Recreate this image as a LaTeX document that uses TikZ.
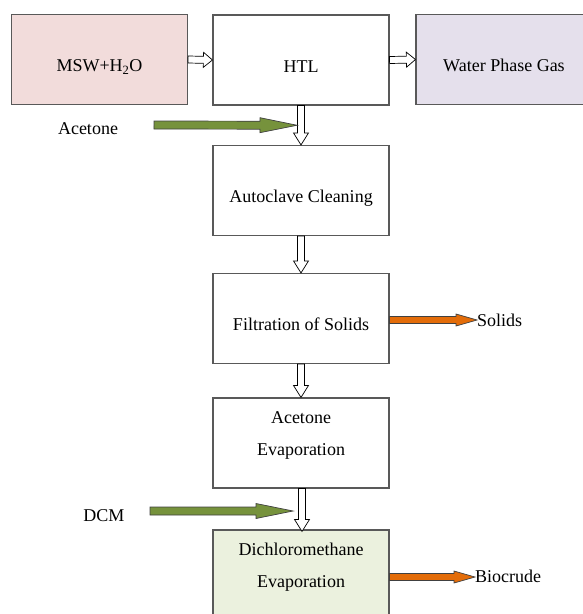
\documentclass[tikz,border=0pt]{standalone}
\usepackage{fontspec}
\setmainfont{Liberation Serif}
\usetikzlibrary{calc}

\definecolor{mswpink}{HTML}{F2DCDB}
\definecolor{gaslilac}{HTML}{E5E0EC}
\definecolor{evapgreen}{HTML}{EBF1DE}
\definecolor{solvgreen}{HTML}{76923C}
\definecolor{prodorange}{HTML}{E36C09}

% flecha de bloque: [estilo]{inicio}{punta}{medio ancho cuerpo}{medio ancho punta}{largo punta}
\newcommand{\blockarrow}[6][]{%
  \coordinate (ba-s) at (#2);
  \coordinate (ba-e) at (#3);
  \coordinate (ba-h) at ($(ba-e)!#6!(ba-s)$);
  \filldraw[#1] ($(ba-s)!#4!90:(ba-e)$) -- ($(ba-h)!#4!90:(ba-e)$) -- ($(ba-h)!#5!90:(ba-e)$)
    -- (ba-e) -- ($(ba-h)!#5!-90:(ba-e)$) -- ($(ba-h)!#4!-90:(ba-e)$) -- ($(ba-s)!#4!-90:(ba-e)$) -- cycle;
}

\begin{document}
\begin{tikzpicture}[x=1pt, y=-1pt,
    box/.style={draw=black!65, line width=1.1pt, minimum width=176pt, minimum height=90pt,
      inner sep=0pt, align=center, text height=24pt, text depth=0pt,
      font=\fontsize{18}{32}\selectfont},
    lbl/.style={font=\fontsize{18}{22}\selectfont, inner sep=0pt},
    hollow/.style={fill=white, draw=black, line width=0.7pt},
    solvent/.style={fill=solvgreen, draw=black!75, line width=0.7pt},
    product/.style={fill=prodorange, draw=black!75, line width=0.7pt}]
    \useasboundingbox (0,0) rectangle (583,614);

    % Cajas del proceso
    \node[box, fill=mswpink] (msw) at (99.5,59.5) {MSW+H\textsubscript{2}O};
    \node[box] (htl) at (301,60) {HTL};
    \node[box, fill=gaslilac] (gas) at (504,59.5) {Water Phase Gas};
    \node[box] (clean) at (301,190.5) {Autoclave Cleaning};
    \node[box] (filt) at (301,318.5) {Filtration of Solids};
    \node[box] (acev) at (301,443) {Acetone\\Evaporation};
    \node[box, fill=evapgreen] (dcmev) at (301,575) {Dichloromethane\\Evaporation};

    % Entradas y salidas
    \node[lbl] (acet) at (88,129) {Acetone};
    \node[lbl] (dcm) at (104,516) {DCM};
    \node[lbl, anchor=west] (solids) at (477,320) {Solids};
    \node[lbl, anchor=west] (crude) at (475,576) {Biocrude};
    \coordinate (acet-in) at (154,125);
    \coordinate (dcm-in) at (150,511);

    % Flechas huecas entre etapas
    \blockarrow[hollow]{msw.east}{htl.west}{3.5pt}{7.5pt}{9pt}
    \blockarrow[hollow]{htl.east}{gas.west}{3.5pt}{7.5pt}{9pt}
    \blockarrow[hollow]{htl.south}{clean.north}{3.5pt}{7.5pt}{12pt}
    \blockarrow[hollow]{clean.south}{filt.north}{3.5pt}{7.5pt}{12pt}
    \blockarrow[hollow]{filt.south}{acev.north}{3.5pt}{7.5pt}{12pt}
    \blockarrow[hollow]{[xshift=1pt]acev.south}{[xshift=1pt,yshift=-2pt]dcmev.north}{3.5pt}{7.5pt}{12pt}

    % Disolventes
    \blockarrow[solvent]{acet-in}{[xshift=-4pt]$(htl.south)!0.5!(clean.north)$}{4pt}{7.5pt}{37pt}
    \blockarrow[solvent]{dcm-in}{[xshift=-8pt]dcm-in -| dcmev.north}{4pt}{7.5pt}{37pt}

    % Productos
    \coordinate (sol-out) at ([yshift=-1.5pt]filt.east);
    \coordinate (crude-out) at ([yshift=-2pt]dcmev.east);
    \blockarrow[product]{sol-out}{sol-out -| solids.west}{3.5pt}{6pt}{21pt}
    \blockarrow[product]{crude-out}{crude-out -| crude.west}{3.5pt}{6pt}{21pt}
\end{tikzpicture}
\end{document}
